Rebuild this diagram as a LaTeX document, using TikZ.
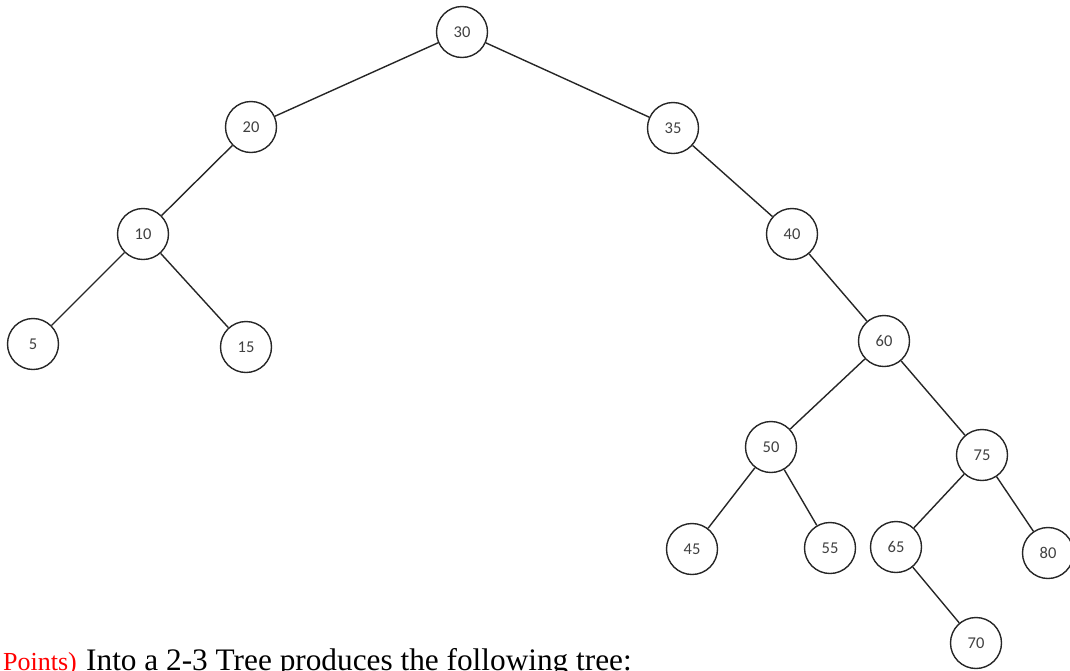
\documentclass[tikz,border=0pt]{standalone}
\usepackage{fontspec}
\setmainfont{Liberation Serif}
\newfontfamily\nodefont{Carlito}
\begin{document}
\begin{tikzpicture}[x=1pt,y=-1pt,
  tnode/.style={circle,draw=black!85,line width=1.4pt,minimum size=51pt,inner sep=0pt,
    font=\nodefont\fontsize{16.5}{19}\selectfont,text=black!75},
  tedge/.style={draw=black!85,line width=1.4pt}]
\useasboundingbox (0,0) rectangle (1070,670);
\clip (0,0) rectangle (1070,670);
\node[tnode] (n30) at (462,32) {30};
\node[tnode] (n20) at (251,127) {20};
\node[tnode] (n35) at (673,128) {35};
\node[tnode] (n10) at (143,234) {10};
\node[tnode] (n40) at (792,234) {40};
\node[tnode] (n5) at (33,344) {5};
\node[tnode] (n15) at (246,347) {15};
\node[tnode] (n60) at (884,341) {60};
\node[tnode] (n50) at (771,447) {50};
\node[tnode] (n75) at (982,455) {75};
\node[tnode] (n45) at (692,549) {45};
\node[tnode] (n55) at (830,548) {55};
\node[tnode] (n65) at (896,547) {65};
\node[tnode] (n80) at (1048,553) {80};
\node[tnode] (n70) at (976,643) {70};
\draw[tedge] (n30) -- (n20);
\draw[tedge] (n30) -- (n35);
\draw[tedge] (n20) -- (n10);
\draw[tedge] (n10) -- (n5);
\draw[tedge] (n10) -- (n15);
\draw[tedge] (n35) -- (n40);
\draw[tedge] (n40) -- (n60);
\draw[tedge] (n60) -- (n50);
\draw[tedge] (n60) -- (n75);
\draw[tedge] (n50) -- (n45);
\draw[tedge] (n50) -- (n55);
\draw[tedge] (n75) -- (n65);
\draw[tedge] (n75) -- (n80);
\draw[tedge] (n65) -- (n70);
\node[anchor=base west,inner sep=0pt,text=red,font=\fontsize{26}{30}\selectfont] (pts) at (3,670) {Points)};
\node[anchor=base west,inner sep=0pt,text=black,font=\fontsize{31.3}{36}\selectfont] (cap) at (86,670) {Into a 2-3 Tree produces the following tree:};
\end{tikzpicture}
\end{document}
